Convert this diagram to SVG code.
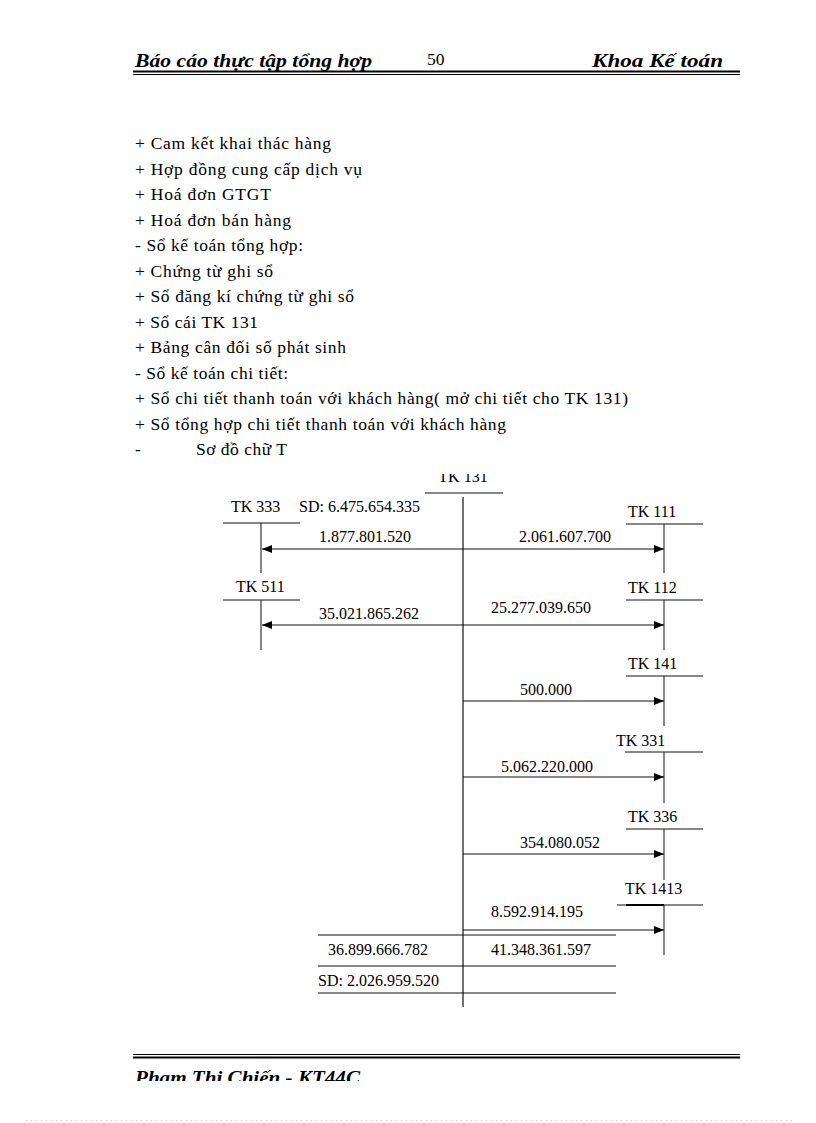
<svg xmlns="http://www.w3.org/2000/svg" width="816" height="1123" viewBox="0 0 816 1123">
<style>
.hdr{font-family:"Liberation Serif",serif;font-style:italic;font-weight:bold;font-size:18px;fill:#000}
.body{font-family:"Liberation Serif",serif;font-size:17.5px;fill:#000}
.lbl{font-family:"Liberation Serif",serif;font-size:16px;fill:#000}
.ln{stroke:#111;stroke-width:1;fill:none}
.vl{stroke:#222;stroke-width:1.3;fill:none}
.arr{stroke:#111;stroke-width:1;fill:none;marker-end:url(#ah)}
</style>
<defs>
<marker id="ah" viewBox="0 0 10 8" refX="10" refY="4" markerWidth="10" markerHeight="8" markerUnits="userSpaceOnUse" orient="auto">
<path d="M0,0 L10,4 L0,8 Z" fill="#000"/>
</marker>
<clipPath id="topclip"><rect x="0" y="474" width="816" height="600"/></clipPath>
<clipPath id="footclip"><rect x="0" y="1060" width="816" height="21"/></clipPath>
</defs>
<rect width="816" height="1123" fill="#fff"/>

<g id="header">
<text class="hdr" x="135" y="67" textLength="237" lengthAdjust="spacingAndGlyphs">Báo cáo thực tập tổng hợp</text>
<text class="body" x="427" y="65" font-size="17">50</text>
<text class="hdr" x="592" y="67" textLength="131" lengthAdjust="spacingAndGlyphs">Khoa Kế toán</text>
<line x1="133" y1="71.5" x2="740" y2="71.5" stroke="#000" stroke-width="2"/>
<line x1="133" y1="74.5" x2="740" y2="74.5" stroke="#000" stroke-width="1"/>
</g>

<g id="body-text">
<text class="body" x="135" y="149" textLength="196" lengthAdjust="spacing">+ Cam kết khai thác hàng</text>
<text class="body" x="135" y="174.5" textLength="227" lengthAdjust="spacing">+ Hợp đồng cung cấp dịch vụ</text>
<text class="body" x="135" y="200" textLength="136" lengthAdjust="spacing">+ Hoá đơn GTGT</text>
<text class="body" x="135" y="225.5" textLength="156" lengthAdjust="spacing">+ Hoá đơn bán hàng</text>
<text class="body" x="135" y="251" textLength="168" lengthAdjust="spacing">- Sổ kế toán tổng hợp:</text>
<text class="body" x="135" y="276.5" textLength="138" lengthAdjust="spacing">+ Chứng từ ghi sổ</text>
<text class="body" x="135" y="302" textLength="219" lengthAdjust="spacing">+ Sổ đăng kí chứng từ ghi sổ</text>
<text class="body" x="135" y="327.5" textLength="123" lengthAdjust="spacing">+ Sổ cái TK 131</text>
<text class="body" x="135" y="353" textLength="211" lengthAdjust="spacing">+ Bảng cân đối số phát sinh</text>
<text class="body" x="135" y="378.5" textLength="153" lengthAdjust="spacing">- Sổ kế toán chi tiết:</text>
<text class="body" x="135" y="404" textLength="493" lengthAdjust="spacing">+ Sổ chi tiết thanh toán với khách hàng( mở chi tiết cho TK 131)</text>
<text class="body" x="135" y="429.5" textLength="371" lengthAdjust="spacing">+ Sổ tổng hợp chi tiết thanh toán với khách hàng</text>
<text class="body" x="135" y="455">-</text>
<text class="body" x="196" y="455" textLength="91" lengthAdjust="spacing">Sơ đồ chữ T</text>
</g>

<g id="tk131" clip-path="url(#topclip)">
<text class="lbl" x="463" y="482" text-anchor="middle">TK 131</text>
<line class="ln" x1="425" y1="493" x2="503" y2="493"/>
<line class="vl" x1="463" y1="497" x2="463" y2="1007"/>
<text class="lbl" x="299" y="512">SD: 6.475.654.335</text>
</g>

<g id="tk333">
<text class="lbl" x="231" y="512">TK 333</text>
<line class="ln" x1="223" y1="523" x2="300" y2="523"/>
<line class="ln" x1="261" y1="523" x2="261" y2="573"/>
</g>
<g id="tk111">
<text class="lbl" x="628" y="517">TK 111</text>
<line class="ln" x1="626" y1="524" x2="703" y2="524"/>
<line class="ln" x1="664" y1="524" x2="664" y2="573"/>
</g>
<g id="tk511">
<text class="lbl" x="236" y="592">TK 511</text>
<line class="ln" x1="223" y1="600" x2="300" y2="600"/>
<line class="ln" x1="261" y1="600" x2="261" y2="650"/>
</g>
<g id="tk112">
<text class="lbl" x="628" y="593">TK 112</text>
<line class="ln" x1="626" y1="600" x2="703" y2="600"/>
<line class="ln" x1="664" y1="600" x2="664" y2="650"/>
</g>
<g id="tk141">
<text class="lbl" x="628" y="669">TK 141</text>
<line class="ln" x1="626" y1="676" x2="703" y2="676"/>
<line class="ln" x1="664" y1="676" x2="664" y2="726"/>
</g>
<g id="tk331">
<text class="lbl" x="616" y="746">TK 331</text>
<line class="ln" x1="625" y1="752" x2="703" y2="752"/>
<line class="ln" x1="664" y1="752" x2="664" y2="803"/>
</g>
<g id="tk336">
<text class="lbl" x="628" y="822">TK 336</text>
<line class="ln" x1="626" y1="829" x2="703" y2="829"/>
<line class="ln" x1="664" y1="829" x2="664" y2="880"/>
</g>
<g id="tk1413">
<text class="lbl" x="625" y="894">TK 1413</text>
<line class="ln" x1="617" y1="905" x2="703" y2="905"/>
<line x1="626" y1="905" x2="664" y2="905" stroke="#000" stroke-width="2"/>
<line class="ln" x1="664" y1="905" x2="664" y2="955"/>
</g>

<g id="connectors">
<line class="arr" x1="463" y1="549" x2="262" y2="549"/>
<line class="arr" x1="463" y1="549" x2="664" y2="549"/>
<line class="arr" x1="463" y1="625" x2="262" y2="625"/>
<line class="arr" x1="463" y1="625" x2="664" y2="625"/>
<line class="arr" x1="463" y1="701" x2="664" y2="701"/>
<line class="arr" x1="463" y1="777" x2="664" y2="777"/>
<line class="arr" x1="463" y1="854" x2="664" y2="854"/>
<line class="arr" x1="463" y1="930" x2="664" y2="930"/>
<text class="lbl" x="319" y="542">1.877.801.520</text>
<text class="lbl" x="519" y="542">2.061.607.700</text>
<text class="lbl" x="319" y="619">35.021.865.262</text>
<text class="lbl" x="491" y="613">25.277.039.650</text>
<text class="lbl" x="520" y="695">500.000</text>
<text class="lbl" x="501" y="772">5.062.220.000</text>
<text class="lbl" x="520" y="848">354.080.052</text>
<text class="lbl" x="491" y="917">8.592.914.195</text>
</g>

<g id="totals">
<line class="ln" x1="318" y1="935" x2="616" y2="935"/>
<line class="ln" x1="318" y1="966" x2="616" y2="966"/>
<line class="ln" x1="318" y1="993" x2="616" y2="993"/>
<text class="lbl" x="328" y="955">36.899.666.782</text>
<text class="lbl" x="491" y="955">41.348.361.597</text>
<text class="lbl" x="318" y="986">SD: 2.026.959.520</text>
</g>

<g id="footer">
<line x1="133" y1="1054.5" x2="740" y2="1054.5" stroke="#000" stroke-width="1"/>
<line x1="133" y1="1057.5" x2="740" y2="1057.5" stroke="#000" stroke-width="2"/>
<text class="hdr" x="135" y="1084" clip-path="url(#footclip)" textLength="225" lengthAdjust="spacingAndGlyphs">Phạm Thị Chiến - KT44C</text>
<line x1="26" y1="1120.5" x2="792" y2="1120.5" stroke="#bbb" stroke-width="1" stroke-dasharray="1,4"/>
</g>
</svg>
